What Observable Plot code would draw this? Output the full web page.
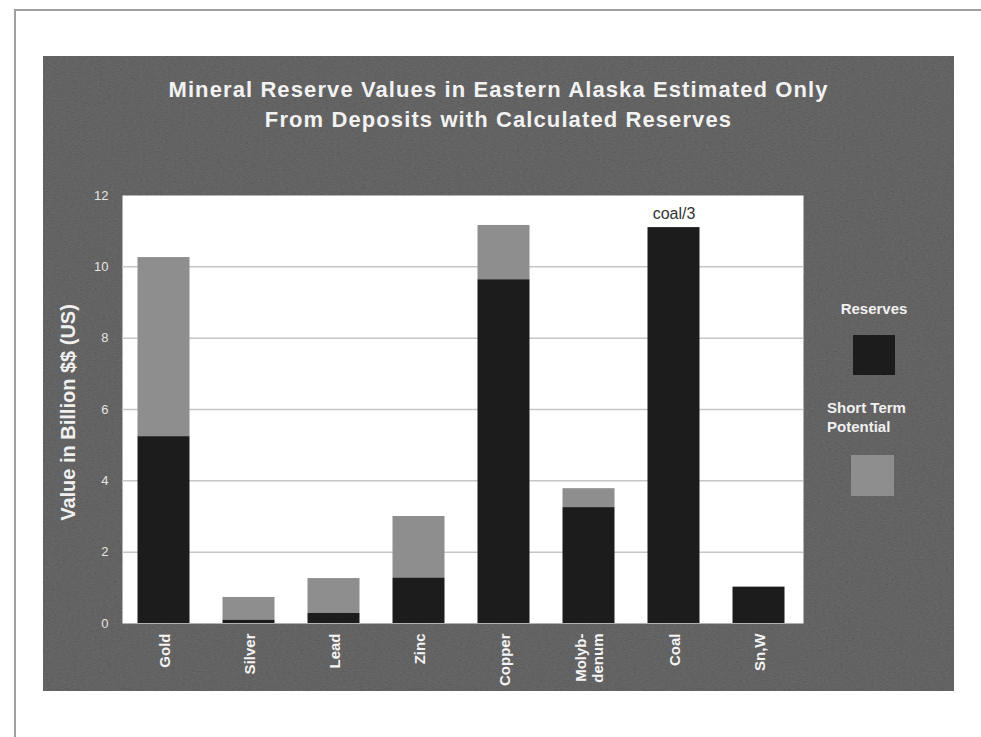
<!DOCTYPE html>
<html><head><meta charset="utf-8">
<script src="https://cdn.jsdelivr.net/npm/d3@7"></script>
<script src="https://cdn.jsdelivr.net/npm/@observablehq/plot@0.6"></script>
<style>
html,body{margin:0;padding:0;background:#fff;}
#page{position:relative;width:981px;height:737px;overflow:hidden;background:#fff;font-family:"Liberation Sans",Arial,sans-serif;}
#border{position:absolute;left:14px;top:9px;width:990px;height:760px;border-left:2px solid #a0a0a0;border-top:2px solid #a0a0a0;}
#panel{position:absolute;left:43px;top:56px;width:911px;height:635px;background:#4d4d4d;}
#noise{position:absolute;left:43px;top:56px;}
#title{position:absolute;left:43px;width:911px;top:75px;text-align:center;color:#f2f2f2;font-weight:bold;font-size:22px;letter-spacing:1.1px;line-height:30px;}
#chart{position:absolute;left:0;top:0;}
.leg{position:absolute;color:#f0f0f0;font-weight:bold;font-size:15px;line-height:17px;white-space:nowrap;}
.sw{position:absolute;}
</style></head>
<body>
<div id="page">
  <div id="border"></div>
  <div id="panel"></div>
  <svg id="noise" width="911" height="635">
    <filter id="grain" x="0" y="0" width="100%" height="100%">
      <feTurbulence type="fractalNoise" baseFrequency="0.35 0.9" numOctaves="2" seed="7"/>
      <feColorMatrix type="matrix" values="0.33 0.33 0.33 0 0  0.33 0.33 0.33 0 0  0.33 0.33 0.33 0 0  0 0 0 0 1"/>
    </filter>
    <rect width="911" height="635" filter="url(#grain)" opacity="0.2"/>
  </svg>
  <div id="title">Mineral Reserve Values in Eastern Alaska Estimated Only<br>From Deposits with Calculated Reserves</div>
  <div id="chart"></div>
  <div id="legend"></div>
</div>
<script>
// ---- data ----
const categories = ["Gold", "Silver", "Lead", "Zinc", "Copper", "Molyb-\ndenum", "Coal", "Sn,W"];
const reserves   = [5.24, 0.10, 0.28, 1.28, 9.64, 3.25, 11.10, 1.02];
const potential  = [5.02, 0.63, 0.98, 1.72, 1.52, 0.53, 0, 0];
const notes      = ["", "", "", "", "", "", "coal/3", ""];
const seriesNames = ["Reserves", "Short Term Potential"];
const seriesColors = ["#1c1c1c", "#8e8e8e"];
const legendLabels = ["Reserves", "Short Term\nPotential"];
const yTicks = [0, 2, 4, 6, 8, 10, 12];
const gridTicks = [2, 4, 6, 8, 10];
const yLabel = "Value in Billion $$ (US)";

const data = categories.flatMap((c, i) => [
  {category: c, series: seriesNames[0], value: reserves[i]},
  {category: c, series: seriesNames[1], value: potential[i]}
]);
const annotated = categories
  .map((c, i) => ({category: c, total: reserves[i] + potential[i], note: notes[i]}))
  .filter(d => d.note);

const chart = Plot.plot({
  width: 981, height: 737,
  marginLeft: 122, marginRight: 178, marginTop: 195, marginBottom: 114,
  style: {background: "transparent", fontFamily: "Liberation Sans, Arial, sans-serif", overflow: "visible"},
  x: {domain: categories, padding: 0, axis: null},
  y: {domain: [0, 12], axis: null},
  color: {domain: seriesNames, range: seriesColors},
  marks: [
    Plot.frame({fill: "#ffffff", stroke: null}),
    Plot.ruleY(gridTicks, {stroke: "#c6c6c6", strokeWidth: 1.5}),
    Plot.barY(data, {x: "category", y: "value", fill: "series", order: seriesNames, insetLeft: 14.5, insetRight: 18.5}),
    Plot.text(annotated, {x: "category", y: "total", text: "note", dx: -2, dy: -9, lineAnchor: "bottom", fontSize: 16, fill: "#333333"}),
    Plot.axisY({ticks: yTicks, tickSize: 0, tickPadding: 14, fontSize: 13, color: "#e4e4e4", label: null}),
    Plot.axisX({tickSize: 0, tickPadding: 10, tickRotate: -90, dx: -2, fontSize: 15, fontWeight: "bold", color: "#f4f4f4", lineHeight: 1.15, label: null}),
    Plot.text([yLabel], {text: d => d, frameAnchor: "left", textAnchor: "middle", rotate: -90, dx: -54, dy: 3, fontSize: 20, fontWeight: "bold", fill: "#f0f0f0", ariaLabel: "ylabel"})
  ]
});
document.getElementById("chart").appendChild(chart);
d3.select(chart).selectAll('g[aria-label="ylabel"] text').style("letter-spacing", "1.5px");

// ---- legend (HTML, built from the series arrays) ----
const legend = d3.select("#legend");
const legendPos = [
  {tx: 874, ty: 299, anchor: "center", sx: 853, sy: 335, sw: 42, sh: 40},
  {tx: 827, ty: 398, anchor: "left", sx: 851, sy: 455, sw: 43, sh: 41}
];
seriesNames.forEach((s, i) => {
  const p = legendPos[i];
  const lines = legendLabels[i].split("\n");
  const div = legend.append("div").attr("class", "leg")
    .style("top", p.ty + "px")
    .style("line-height", "19px");
  if (p.anchor === "center") {
    div.style("left", (p.tx - 60) + "px").style("width", "120px").style("text-align", "center");
  } else {
    div.style("left", p.tx + "px");
  }
  div.html(lines.join("<br>"));
  legend.append("div").attr("class", "sw")
    .style("left", p.sx + "px").style("top", p.sy + "px")
    .style("width", p.sw + "px").style("height", p.sh + "px")
    .style("background", seriesColors[i]);
});
</script>
</body></html>
